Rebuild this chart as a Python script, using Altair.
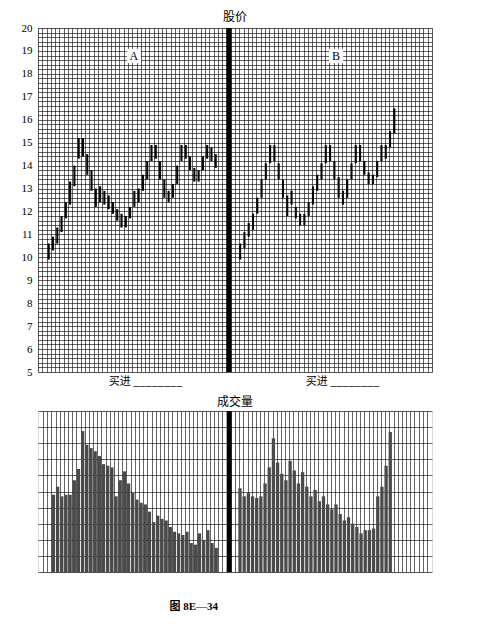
import altair as alt
import pandas as pd

# ---- data ----
a_low = [9.9, 10.3, 10.6, 11.1, 11.7, 12.3, 13.1, 14.3, 14.4, 13.6,
         12.9, 12.2, 12.4, 12.3, 12.1, 11.9, 11.6, 11.3, 11.3, 11.7,
         12.2, 12.4, 12.9, 13.4, 14.2, 14.3, 13.4, 12.6, 12.4, 12.6,
         13.2, 14.2, 14.3, 13.8, 13.3, 13.3, 13.8, 14.3, 14.2, 13.9]
a_high = [10.6, 10.9, 11.3, 11.8, 12.4, 13.3, 14.0, 15.2, 15.2, 14.5,
          13.8, 13.0, 13.1, 12.9, 12.7, 12.4, 12.1, 11.9, 11.8, 12.2,
          12.9, 13.0, 13.6, 14.2, 14.9, 14.9, 14.2, 13.4, 12.9, 13.2,
          14.0, 14.9, 14.9, 14.4, 13.9, 13.8, 14.4, 14.9, 14.8, 14.5]
b_low = [9.9, 10.4, 10.9, 11.2, 11.9, 12.6, 13.4, 14.1, 14.2, 13.4,
         12.6, 11.8, 12.3, 11.7, 11.4, 11.4, 11.8, 12.3, 12.9, 13.4,
         14.1, 14.2, 13.4, 12.6, 12.3, 12.6, 13.4, 14.1, 14.2, 13.6,
         13.2, 13.2, 13.5, 14.2, 14.3, 14.8, 15.4]
b_high = [10.6, 11.1, 11.5, 11.9, 12.6, 13.4, 14.1, 14.9, 14.9, 14.1,
          13.4, 12.7, 12.9, 12.2, 11.9, 11.9, 12.4, 13.1, 13.6, 14.1,
          14.9, 14.9, 14.2, 13.5, 12.9, 13.4, 14.1, 14.9, 14.9, 14.2,
          13.7, 13.6, 14.2, 14.9, 14.9, 15.5, 16.5]
vol_a = [4.8, 5.3, 4.7, 4.8, 4.8, 5.7, 6.4, 8.75, 7.9, 7.7,
         7.5, 7.2, 6.7, 6.6, 6.5, 4.7, 5.7, 6.25, 5.5, 4.9,
         4.5, 4.3, 4.2, 3.75, 3.1, 3.5, 3.3, 3.2, 2.8, 2.5,
         2.4, 2.3, 2.5, 1.8, 1.7, 2.4, 2.0, 2.6, 1.8, 1.5]
vol_b = [5.2, 4.7, 4.9, 4.7, 4.6, 4.7, 5.5, 6.5, 8.3, 6.8,
         6.1, 5.7, 6.9, 6.3, 5.5, 6.2, 5.3, 4.7, 5.1, 4.4,
         4.7, 4.2, 3.9, 4.2, 3.6, 3.2, 3.4, 3.0, 2.8, 2.4,
         2.6, 2.6, 2.7, 4.7, 5.3, 6.6, 8.7]
panel_labels = ["A", "B"]
buy_label = "买进 ________"
price_title = "股价"
volume_title = "成交量"
caption = "图 8E—34"

N_COLS = 92
A_START = 2.5
B_START = 47.2
DIVIDER = 44.6

price_rows = []
for i, (lo, hi) in enumerate(zip(a_low, a_high)):
    price_rows.append({"col": A_START + i, "low": lo, "high": hi})
for i, (lo, hi) in enumerate(zip(b_low, b_high)):
    price_rows.append({"col": B_START + i, "low": lo, "high": hi})
price_df = pd.DataFrame(price_rows)

vol_rows = []
for i, v in enumerate(vol_a):
    vol_rows.append({"col": A_START + i, "vol": v})
for i, v in enumerate(vol_b):
    vol_rows.append({"col": B_START + i, "vol": v})
vol_df = pd.DataFrame(vol_rows)

x_grid = list(range(0, N_COLS + 1))
y_grid = [round(5 + 0.2 * k, 1) for k in range(76)]
v_grid = list(range(0, 11))

xscale = alt.Scale(domain=[0, N_COLS], nice=False, zero=False)
pyscale = alt.Scale(domain=[5, 20], nice=False, zero=False)
vyscale = alt.Scale(domain=[0, 10], nice=False, zero=False)

GRID = dict(grid=True, gridColor="#000000", gridOpacity=0.68, gridWidth=0.9,
            ticks=False, domain=False)

price_x_axis = alt.Axis(values=x_grid, title=None, labelOverlap=False, labelFlush=False,
                        labelExpr=f"datum.value == 25 ? '{buy_label}' : datum.value == 71 ? '{buy_label}' : ''",
                        labelFont="Noto Sans CJK SC", labelFontSize=11, labelColor="black",
                        labelPadding=3, labelAngle=0, **GRID)
price_y_axis = alt.Axis(values=y_grid, title=None, labelOverlap=False, labelFlush=False,
                        labelExpr="abs(datum.value - round(datum.value)) < 0.01 ? format(datum.value, 'd') : ''",
                        labelFont="Liberation Serif", labelFontSize=11, labelColor="black",
                        labelPadding=6, minExtent=29, maxExtent=29, **GRID)

PX = lambda f: alt.X(f, scale=xscale, axis=price_x_axis)
PY = lambda f: alt.Y(f, scale=pyscale, axis=price_y_axis)

bars = alt.Chart(price_df).mark_rule(color="black", strokeWidth=2.1).encode(
    x=PX("col:Q"), y=PY("low:Q"), y2="high:Q",
)

divider_df = pd.DataFrame({"d": [DIVIDER]})
p_divider = alt.Chart(divider_df).mark_rule(color="black", strokeWidth=5).encode(x=PX("d:Q"))

lab_df = pd.DataFrame({"col": [22.4, 69.6], "y": [18.78, 18.78], "t": panel_labels})
lab_box = alt.Chart(lab_df).mark_square(size=200, color="white", opacity=1, filled=True).encode(
    x=PX("col:Q"), y=PY("y:Q"))
lab_txt = alt.Chart(lab_df).mark_text(font="Liberation Serif", fontSize=12, color="black").encode(
    x=PX("col:Q"), y=PY("y:Q"), text="t:N")

price = alt.layer(bars, p_divider, lab_box, lab_txt).properties(
    width=394, height=344,
    title=alt.TitleParams(price_title, font="Noto Sans CJK SC", fontSize=12,
                          fontWeight="normal", color="black", offset=-2, anchor="middle"),
)

vol_x_axis = alt.Axis(values=x_grid, title=None, labelOverlap=False, labelFlush=False,
                      labelExpr=f"datum.value == 36 ? '{caption}' : ''",
                      labelFont="Liberation Serif, Noto Sans CJK SC", labelFontSize=11,
                      labelFontWeight="bold", labelColor="black", labelPadding=28, labelAngle=0,
                      **GRID)
vol_y_axis = alt.Axis(values=v_grid, title=None, labels=False, minExtent=29, maxExtent=29, **GRID)

VX = lambda f: alt.X(f, scale=xscale, axis=vol_x_axis)

vbars = alt.Chart(vol_df).mark_bar(color="#4a4a4a", width=3.3).encode(
    x=VX("col:Q"),
    y=alt.Y("vol:Q", scale=vyscale, axis=vol_y_axis),
)
v_divider = alt.Chart(divider_df).mark_rule(color="black", strokeWidth=5).encode(x=VX("d:Q"))

volume = alt.layer(vbars, v_divider).properties(
    width=394, height=161,
    title=alt.TitleParams(volume_title, font="Noto Sans CJK SC", fontSize=12,
                          fontWeight="normal", color="black", offset=0, anchor="middle"),
)

chart = alt.vconcat(price, volume, spacing=8).properties(
    padding={"left": 0, "top": 2, "right": 5, "bottom": 5}
).configure_view(stroke="black", strokeWidth=1.5).configure(background="white")

chart.save("out.html", embed_options={"renderer": "svg", "actions": False})
